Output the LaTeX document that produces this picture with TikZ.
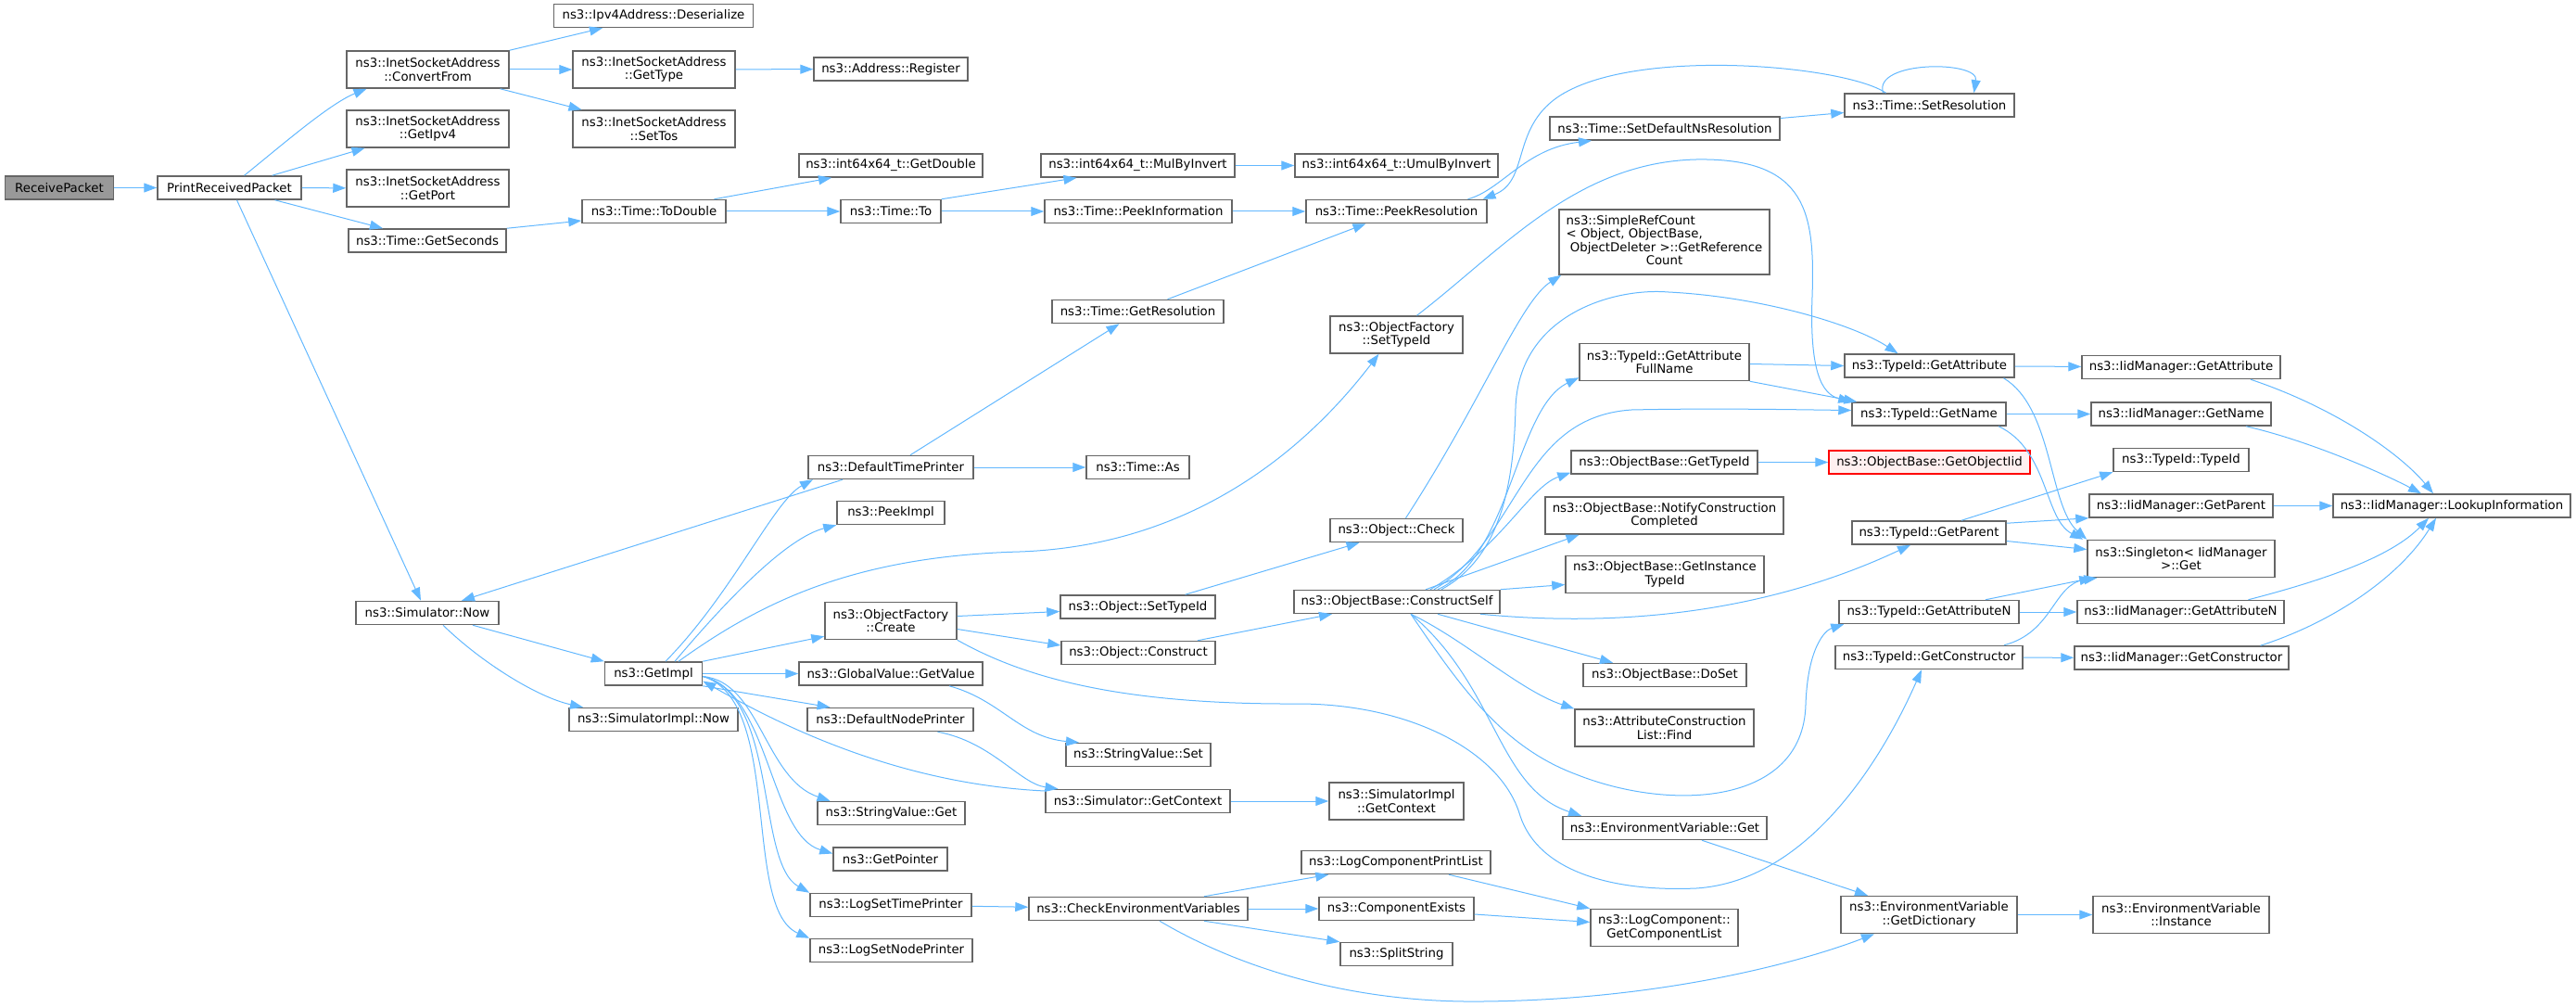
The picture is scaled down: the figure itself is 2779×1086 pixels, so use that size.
\documentclass[tikz,border=0pt]{standalone}
\usepackage{fontspec}
\usetikzlibrary{arrows.meta}
\newfontfamily\callfont{DejaVu Sans}
\newcommand\callsize{\fontsize{13.3pt}{14.5pt}\selectfont}
\definecolor{callblue}{HTML}{63B8FF}
\definecolor{boxgray}{HTML}{666666}
\definecolor{rootfill}{HTML}{999999}
\definecolor{missfill}{HTML}{FFF0F0}
\tikzset{function box/.style={draw=boxgray, line width=1.5pt, fill=white,
    minimum width=#1pt, minimum height=25pt, inner sep=2pt, align=center,
    font=\callfont\callsize}}
\tikzstyle{two lines}=[minimum height=40pt]
\tikzstyle{function root}=[fill=rootfill]
\tikzstyle{function missing}=[draw=red, fill=missfill]
\tikzstyle{call edge}=[draw=callblue, line width=1pt, -{Triangle[length=14pt,width=10pt]}]

\begin{document}
\begin{tikzpicture}[x=1pt, y=-1pt]
  \useasboundingbox (0,0) rectangle (2779,1086);

  % column 1 and 2
  \node[function box=117, function root] (rp) at (64,202.5) {ReceivePacket};
  \node[function box=155] (prp) at (247.5,202.5) {PrintReceivedPacket};

  % column 3
  \node[function box=175, two lines] (convfrom) at (461.5,75) {ns3::InetSocketAddress\\::ConvertFrom};
  \node[function box=175, two lines] (getipv4) at (461.5,139) {ns3::InetSocketAddress\\::GetIpv4};
  \node[function box=175, two lines] (getport) at (461.5,203) {ns3::InetSocketAddress\\::GetPort};
  \node[function box=170] (getsec) at (461,259.5) {ns3::Time::GetSeconds};
  \node[function box=154] (simnow) at (461,661) {ns3::Simulator::Now};

  % column 4
  \node[function box=215] (deser) at (705,17) {ns3::Ipv4Address::Deserialize};
  \node[function box=175, two lines] (gettype) at (705.5,75) {ns3::InetSocketAddress\\::GetType};
  \node[function box=175, two lines] (settos) at (705.5,139) {ns3::InetSocketAddress\\::SetTos};
  \node[function box=155] (todouble) at (705.5,228) {ns3::Time::ToDouble};
  \node[function box=105] (getimpl) at (705,726.5) {ns3::GetImpl};
  \node[function box=182] (simimplnow) at (705,776) {ns3::SimulatorImpl::Now};

  % column 5
  \node[function box=166] (register) at (961,74.5) {ns3::Address::Register};
  \node[function box=198] (getdouble) at (961,178.5) {ns3::int64x64\_t::GetDouble};
  \node[function box=108] (timeto) at (961,228) {ns3::Time::To};
  \node[function box=178] (deftimepr) at (961,504) {ns3::DefaultTimePrinter};
  \node[function box=116] (peekimpl) at (961,553) {ns3::PeekImpl};
  \node[function box=142, two lines] (ofcreate) at (961,669.5) {ns3::ObjectFactory\\::Create};
  \node[function box=198] (getvalue) at (961,726.5) {ns3::GlobalValue::GetValue};
  \node[function box=179] (defnodepr) at (960.5,776) {ns3::DefaultNodePrinter};
  \node[function box=159] (svget) at (961.5,877) {ns3::StringValue::Get};
  \node[function box=123] (getpointer) at (960.5,926.5) {ns3::GetPointer};
  \node[function box=174] (logsettime) at (961,976) {ns3::LogSetTimePrinter};
  \node[function box=175] (logsetnode) at (961.5,1025) {ns3::LogSetNodePrinter};

  % column 6
  \node[function box=209] (mulbyinv) at (1227.5,178.5) {ns3::int64x64\_t::MulByInvert};
  \node[function box=202] (peekinfo) at (1228,228) {ns3::Time::PeekInformation};
  \node[function box=185] (getres) at (1227.5,336) {ns3::Time::GetResolution};
  \node[function box=111] (timeas) at (1227.5,504) {ns3::Time::As};
  \node[function box=167] (objsettid) at (1227.5,654.5) {ns3::Object::SetTypeId};
  \node[function box=166] (objconstruct) at (1228,704) {ns3::Object::Construct};
  \node[function box=156] (svset) at (1228,814) {ns3::StringValue::Set};
  \node[function box=199] (simgetctx) at (1227.5,864) {ns3::Simulator::GetContext};
  \node[function box=236] (checkenv) at (1228,980) {ns3::CheckEnvironmentVariables};

  % column 7
  \node[function box=219] (umul) at (1506.5,178.5) {ns3::int64x64\_t::UmulByInvert};
  \node[function box=195] (peekres) at (1506.5,228) {ns3::Time::PeekResolution};
  \node[function box=143, two lines] (ofsettid) at (1506.5,361) {ns3::ObjectFactory\\::SetTypeId};
  \node[function box=143] (objcheck) at (1506.5,572) {ns3::Object::Check};
  \node[function box=222] (constructself) at (1507,649) {ns3::ObjectBase::ConstructSelf};
  \node[function box=145, two lines] (simimplctx) at (1506.5,864) {ns3::SimulatorImpl\\::GetContext};
  \node[function box=204] (logprintlist) at (1506,930) {ns3::LogComponentPrintList};
  \node[function box=167] (compexists) at (1506.5,980) {ns3::ComponentExists};
  \node[function box=121] (splitstr) at (1506.5,1029) {ns3::SplitString};

  % column 8
  \node[function box=248] (setdefns) at (1796,138.5) {ns3::Time::SetDefaultNsResolution};
  \node[function box=227, minimum height=70pt] (refcount) at (1795.5,261)
    {\begin{tabular}{@{}l@{}}ns3::SimpleRefCount\\< Object, ObjectBase,\\\ ObjectDeleter >::GetReference\\\multicolumn{1}{@{}c@{}}{Count}\end{tabular}};
  \node[function box=183, two lines] (getattrfull) at (1795.5,390.5) {ns3::TypeId::GetAttribute\\FullName};
  \node[function box=201] (obgettid) at (1795.5,498.5) {ns3::ObjectBase::GetTypeId};
  \node[function box=257, two lines] (notify) at (1795.5,556) {ns3::ObjectBase::NotifyConstruction\\Completed};
  \node[function box=214, two lines] (getinst) at (1796,619.5) {ns3::ObjectBase::GetInstance\\TypeId};
  \node[function box=176] (doset) at (1796,728) {ns3::ObjectBase::DoSet};
  \node[function box=193, two lines] (find) at (1795.5,785) {ns3::AttributeConstruction\\List::Find};
  \node[function box=220] (envget) at (1796,893) {ns3::EnvironmentVariable::Get};
  \node[function box=159, two lines] (getcomplist) at (1795.5,1000.5) {ns3::LogComponent::\\GetComponentList};

  % column 9
  \node[function box=183] (setres) at (2081.5,113.5) {ns3::Time::SetResolution};
  \node[function box=183] (getattr) at (2081.5,394.5) {ns3::TypeId::GetAttribute};
  \node[function box=166] (getname) at (2081,446.5) {ns3::TypeId::GetName};
  \node[function box=217, function missing] (getobjiid) at (2081.5,498.5) {ns3::ObjectBase::GetObjectIid};
  \node[function box=166] (getparent) at (2081,574.5) {ns3::TypeId::GetParent};
  \node[function box=194] (getattrn) at (2081,660) {ns3::TypeId::GetAttributeN};
  \node[function box=202] (getctor) at (2081,709) {ns3::TypeId::GetConstructor};
  \node[function box=190, two lines] (getdict) at (2081,986.5) {ns3::EnvironmentVariable\\::GetDictionary};

  % column 10 and 11
  \node[function box=214] (iidgetattr) at (2353,396) {ns3::IidManager::GetAttribute};
  \node[function box=194] (iidgetname) at (2353,446.5) {ns3::IidManager::GetName};
  \node[function box=146] (tidtid) at (2353,496) {ns3::TypeId::TypeId};
  \node[function box=198] (iidgetparent) at (2353,545.5) {ns3::IidManager::GetParent};
  \node[function box=202, two lines] (singleton) at (2353,602.5) {ns3::Singleton< IidManager\\>::Get};
  \node[function box=223] (iidgetattrn) at (2352.5,660) {ns3::IidManager::GetAttributeN};
  \node[function box=231] (iidgetctor) at (2353.5,709.5) {ns3::IidManager::GetConstructor};
  \node[function box=190, two lines] (envinstance) at (2353,986.5) {ns3::EnvironmentVariable\\::Instance};
  \node[function box=256] (lookup) at (2645,545.5) {ns3::IidManager::LookupInformation};

  % calls
  \draw[call edge] (rp) -- (prp);
  \draw[call edge] ([xshift=16]prp.north) .. controls (300,160) and (355,112) .. ([xshift=-66]convfrom.south);
  \draw[call edge] ([xshift=46]prp.north) -- ([xshift=-68]getipv4.south);
  \draw[call edge] (prp) -- (getport);
  \draw[call edge] ([xshift=49]prp.south) -- ([xshift=-48]getsec.north);
  \draw[call edge] ([xshift=8]prp.south) -- ([xshift=-7]simnow.north);
  \draw[call edge] (convfrom.north east) -- ([xshift=-55]deser.south);
  \draw[call edge] (convfrom) -- (gettype);
  \draw[call edge] ([xshift=78]convfrom.south) -- ([xshift=-78]settos.north);
  \draw[call edge] (gettype) -- (register);
  \draw[call edge] (getsec.north east) -- ([yshift=-10]todouble.west);
  \draw[call edge] ([xshift=65]todouble.north) -- ([xshift=-64]getdouble.south);
  \draw[call edge] (todouble) -- (timeto);
  \draw[call edge] (timeto.north east) -- ([xshift=-66]mulbyinv.south);
  \draw[call edge] (timeto) -- (peekinfo);
  \draw[call edge] (mulbyinv) -- (umul);
  \draw[call edge] (peekinfo) -- (peekres);
  \draw[call edge] ([xshift=32]getres.north) -- ([xshift=-33]peekres.south);
  \draw[call edge] ([xshift=21]deftimepr.north) -- ([xshift=-20]getres.south);
  \draw[call edge] (deftimepr) -- (timeas);
  \draw[call edge] ([xshift=-52]deftimepr.south) -- ([xshift=37]simnow.north);
  \draw[call edge] ([xshift=49]simnow.south) -- (getimpl.north west);
  \draw[call edge] ([xshift=17]simnow.south) .. controls (520,715) and (580,752) .. ([xshift=-76]simimplnow.north);

  \draw[call edge] ([xshift=13]getimpl.north) .. controls (790,640) and (835,540) .. ([xshift=-84]deftimepr.south);
  \draw[call edge] ([xshift=23]getimpl.north) .. controls (790,640) and (850,580) .. (peekimpl.south west);
  \draw[call edge] ([xshift=27]getimpl.north) .. controls (820,650) and (920,600) .. (1100,595)
    .. controls (1300,588) and (1420,470) .. ([xshift=-19]ofsettid.south);
  \draw[call edge] (getimpl.north east) -- ([yshift=4]ofcreate.south west);
  \draw[call edge] (getimpl) -- (getvalue);
  \draw[call edge] (getimpl.south east) -- ([xshift=-65]defnodepr.north);
  \draw[call edge] ([yshift=-3]getimpl.east) .. controls (820,735) and (825,840) .. ([xshift=-66]svget.north);
  \draw[call edge] ([yshift=-3]getimpl.east) .. controls (830,745) and (830,900) .. ([yshift=6]getpointer.west);
  \draw[call edge] ([yshift=-3]getimpl.east) .. controls (840,750) and (815,930) .. (logsettime.north west);
  \draw[call edge] ([yshift=-3]getimpl.east) .. controls (845,755) and (800,980) .. (logsetnode.north west);
  \draw[call edge] ([yshift=11]simgetctx.west) .. controls (960,845) and (830,775) .. ([yshift=-8]getimpl.east);

  \draw[call edge] ([yshift=5]ofcreate.east) -- ([yshift=-5]objsettid.west);
  \draw[call edge] ([yshift=-9]ofcreate.east) -- ([yshift=8]objconstruct.west);
  \draw[call edge] (ofcreate.south east) .. controls (1100,728) and (1200,760) .. (1400,759)
    .. controls (1520,759) and (1620,810) .. (1640,880)
    .. controls (1660,940) and (1740,962) .. (1830,958)
    .. controls (1950,950) and (2030,820) .. ([xshift=-8]getctor.south);
  \draw[call edge] ([xshift=63]getvalue.south) .. controls (1080,755) and (1100,795) .. ([xshift=-64]svset.north);
  \draw[call edge] ([xshift=51]defnodepr.south) .. controls (1070,800) and (1100,845) .. ([xshift=-86]simgetctx.north);
  \draw[call edge] (simgetctx) -- (simimplctx);
  \draw[call edge] (logsettime) -- (checkenv);
  \draw[call edge] ([xshift=51]objsettid.north) -- ([xshift=-40]objcheck.south);
  \draw[call edge] ([xshift=64]objconstruct.north) -- ([xshift=-70]constructself.south);
  \draw[call edge] ([xshift=10]objcheck.north) .. controls (1600,430) and (1640,325) .. ([xshift=3]refcount.south west);
  \draw[call edge] ([xshift=22]ofsettid.north) .. controls (1620,270) and (1700,175) .. (1830,172)
    .. controls (1950,170) and (1958,230) .. (1955,320)
    .. controls (1952,400) and (1965,425) .. (getname.north west);

  \draw[call edge] ([xshift=-47]setres.north) .. controls (1990,70) and (1760,50) .. (1680,105)
    .. controls (1630,140) and (1650,195) .. ([xshift=93]peekres.north);
  \draw[call edge] ([xshift=77]peekres.north) .. controls (1620,205) and (1645,160) .. ([xshift=-79]setdefns.south);
  \draw[call edge] ([yshift=11]setdefns.east) -- ([yshift=-8]setres.west);
  \draw[call edge] ([xshift=-50]setres.north) .. controls (2020,65) and (2135,65) .. ([xshift=48]setres.north);

  \draw[call edge] ([yshift=-2]getattrfull.east) -- (getattr.west);
  \draw[call edge] (getattrfull.south east) -- ([xshift=6]getname.north west);
  \draw[call edge] ([xshift=48]constructself.north) .. controls (1620,600) and (1633,520) .. (1635,440)
    .. controls (1638,340) and (1740,310) .. (1800,315)
    .. controls (1900,320) and (2000,350) .. ([xshift=-34]getattr.north);
  \draw[call edge] ([xshift=44]constructself.north) .. controls (1630,600) and (1635,440) .. ([yshift=4]getattrfull.south west);
  \draw[call edge] ([xshift=40]constructself.north) .. controls (1640,580) and (1640,450) .. (1760,442)
    .. controls (1850,440) and (1950,442) .. ([yshift=4]getname.west);
  \draw[call edge] ([xshift=36]constructself.north) .. controls (1620,590) and (1650,525) .. ([yshift=2]obgettid.south west);
  \draw[call edge] ([xshift=31]constructself.north) -- ([xshift=-92]notify.south);
  \draw[call edge] (constructself.north east) -- ([yshift=-11]getinst.west);
  \draw[call edge] ([xshift=90]constructself.south) .. controls (1800,682) and (1950,640) .. ([xshift=-20]getparent.south);
  \draw[call edge] ([xshift=44]constructself.south) -- ([xshift=-56]doset.north);
  \draw[call edge] ([xshift=15]constructself.south) .. controls (1580,690) and (1640,745) .. (find.north west);
  \draw[call edge] ([xshift=15]constructself.south) .. controls (1575,740) and (1620,805) .. (1700,835)
    .. controls (1800,875) and (1945,870) .. (1948,760)
    .. controls (1950,700) and (1968,680) .. ([xshift=6]getattrn.south west);
  \draw[call edge] ([xshift=15]constructself.south) .. controls (1615,740) and (1615,850) .. ([xshift=-90]envget.north);

  \draw[call edge] (obgettid) -- (getobjiid);
  \draw[call edge] (getattr) -- (iidgetattr);
  \draw[call edge] ([xshift=80]getattr.south) .. controls (2215,440) and (2210,545) .. (singleton.north west);
  \draw[call edge] (getname) -- (iidgetname);
  \draw[call edge] ([xshift=75]getname.south) .. controls (2210,485) and (2205,560) .. ([xshift=-4]singleton.north west);
  \draw[call edge] ([xshift=75]iidgetattr.south) .. controls (2520,440) and (2590,490) .. ([xshift=-20]lookup.north);
  \draw[call edge] ([xshift=70]iidgetname.south) .. controls (2490,475) and (2570,510) .. ([xshift=-33]lookup.north);
  \draw[call edge] ([xshift=35]getparent.north) -- (tidtid.south west);
  \draw[call edge] ([yshift=-3]getparent.north east) -- (iidgetparent.south west);
  \draw[call edge] ([yshift=-9]getparent.east) -- ([yshift=10]singleton.west);
  \draw[call edge] (iidgetparent) -- (lookup);
  \draw[call edge] ([xshift=61]getattrn.north) -- ([xshift=6]singleton.south west);
  \draw[call edge] (getattrn) -- (iidgetattrn);
  \draw[call edge] ([xshift=81]getctor.north) .. controls (2215,682) and (2215,630) .. ([xshift=11]singleton.south west);
  \draw[call edge] (getctor) -- (iidgetctor);
  \draw[call edge] ([xshift=73]iidgetattrn.north) .. controls (2510,625) and (2580,600) .. ([xshift=-25]lookup.south);
  \draw[call edge] ([xshift=85]iidgetctor.north) .. controls (2520,670) and (2590,620) .. ([xshift=-17]lookup.south);

  \draw[call edge] ([xshift=40]envget.south) -- ([xshift=-66]getdict.north);
  \draw[call edge] (getdict) -- (envinstance);
  \draw[call edge] ([xshift=71]checkenv.north) -- ([xshift=30]logprintlist.south west);
  \draw[call edge] (checkenv) -- (compexists);
  \draw[call edge] ([xshift=71]checkenv.south) -- (splitstr.north west);
  \draw[call edge] ([xshift=23]checkenv.south) .. controls (1330,1040) and (1450,1082) .. (1600,1080)
    .. controls (1800,1078) and (1950,1035) .. ([xshift=-59]getdict.south);
  \draw[call edge] ([xshift=57]logprintlist.south) -- (getcomplist.north west);
  \draw[call edge] ([yshift=-6]compexists.east) -- ([yshift=6]getcomplist.west);

  % \draw[red] (0,0) rectangle (2779,1086);
\end{tikzpicture}
\end{document}
